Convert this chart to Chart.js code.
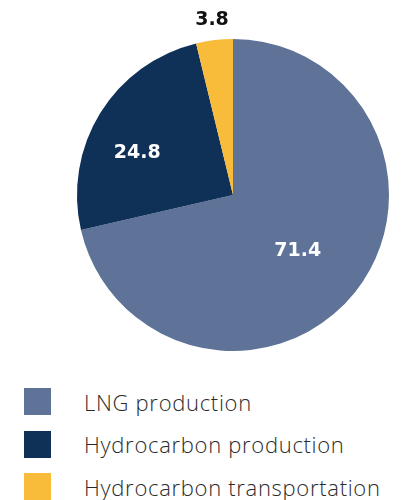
<!DOCTYPE html>
<html>
<head>
<meta charset="utf-8">
<script src="https://cdn.jsdelivr.net/npm/chart.js@4"></script>
<style>
  body { margin: 0; background: #fff; width: 404px; height: 500px; overflow: hidden; font-family: "Open Sans", sans-serif; }
  #wrap { position: absolute; left: 0; top: 0; width: 404px; height: 370px; }
  #legend { position: absolute; left: 24px; top: 388px; }
  .item { display: flex; align-items: center; height: 27px; margin-bottom: 15.5px; }
  .box { width: 27px; height: 27px; margin-right: 33px; }
  .txt { font-size: 22px; font-weight: 300; color: #2b2b2b; letter-spacing: 0.7px; white-space: nowrap; }
</style>
</head>
<body>
<div id="wrap"><canvas id="chart"></canvas></div>
<div id="legend"></div>
<script>
// data
const labels = ["LNG production", "Hydrocarbon production", "Hydrocarbon transportation"];
const values = [71.4, 24.8, 3.8];
const colors = ["#5f7298", "#0f3057", "#f9bb3a"];

// label placement: fraction of radius, angle shift (deg), text colour
const labelRadius = [0.55, 0.67, 1.13];
const labelShift = [2.5, -8, 0];
const labelColor = ["#fff", "#fff", "#111"];

const valueLabels = {
  id: "valueLabels",
  afterDatasetsDraw(chart) {
    const ctx = chart.ctx;
    const meta = chart.getDatasetMeta(0);
    ctx.save();
    ctx.font = "bold 19px 'DejaVu Sans', sans-serif";
    ctx.textAlign = "center";
    ctx.textBaseline = "middle";
    meta.data.forEach((arc, i) => {
      const mid = (arc.startAngle + arc.endAngle) / 2 + labelShift[i] * Math.PI / 180;
      const r = arc.outerRadius * labelRadius[i];
      ctx.fillStyle = labelColor[i];
      ctx.fillText(values[i].toFixed(1), arc.x + Math.cos(mid) * r, arc.y + Math.sin(mid) * r);
    });
    ctx.restore();
  }
};

new Chart(document.getElementById("chart"), {
  type: "pie",
  data: {
    labels: labels,
    datasets: [{ data: values, backgroundColor: colors, borderWidth: 0 }]
  },
  options: {
    responsive: true,
    maintainAspectRatio: false,
    animation: false,
    layout: { padding: { left: 62, right: 0, top: 39, bottom: 19 } },
    plugins: { legend: { display: false }, tooltip: { enabled: false } }
  },
  plugins: [valueLabels]
});

// legend
const legend = document.getElementById("legend");
labels.forEach((l, i) => {
  const row = document.createElement("div");
  row.className = "item";
  row.innerHTML = `<div class="box" style="background:${colors[i]}"></div><div class="txt">${l}</div>`;
  legend.appendChild(row);
});
</script>
</body>
</html>
